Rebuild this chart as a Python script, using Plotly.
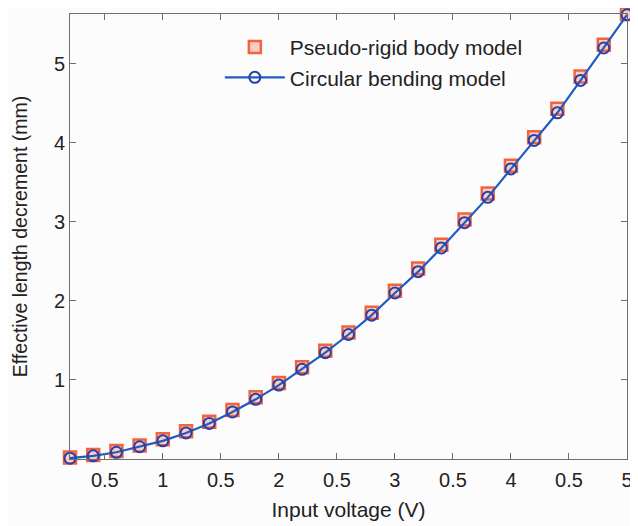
import plotly.graph_objects as go

voltage = [0.2, 0.4, 0.6, 0.8, 1.0, 1.2, 1.4, 1.6, 1.8, 2.0, 2.2, 2.4, 2.6,
           2.8, 3.0, 3.2, 3.4, 3.6, 3.8, 4.0, 4.2, 4.4, 4.6, 4.8, 5.0]
circular = [0.01, 0.04, 0.085, 0.155, 0.23, 0.33, 0.45, 0.595, 0.755, 0.935,
            1.135, 1.345, 1.575, 1.82, 2.10, 2.37, 2.67, 2.99, 3.31, 3.67,
            4.03, 4.38, 4.79, 5.20, 5.62]
pseudo = [0.02, 0.05, 0.10, 0.17, 0.25, 0.35, 0.47, 0.62, 0.78, 0.96,
          1.16, 1.37, 1.60, 1.85, 2.13, 2.41, 2.71, 3.03, 3.36, 3.71,
          4.07, 4.43, 4.84, 5.24, 5.63]
x_tickvals = [0.5, 1.0, 1.5, 2.0, 2.5, 3.0, 3.5, 4.0, 4.5, 5.0]
x_ticktext = ["0.5", "1", "0.5", "2", "0.5", "3", "0.5", "4", "0.5", "5"]
y_tickvals = [1, 2, 3, 4, 5]

font = "Liberation Sans, Arial, sans-serif"

fig = go.Figure()
fig.add_trace(go.Scatter(
    x=voltage, y=pseudo, mode="markers", name="Pseudo-rigid body model",
    cliponaxis=False,
    marker=dict(symbol="square", size=12, color="rgba(250,200,185,0.9)",
                line=dict(color="#f0643f", width=2.5)),
))
fig.add_trace(go.Scatter(
    x=voltage, y=circular, mode="lines+markers", name="Circular bending model",
    cliponaxis=False,
    line=dict(color="#1f5cc0", width=2.2),
    marker=dict(symbol="circle-open", size=11, color="#2a3fa8",
                line=dict(color="#2a3fa8", width=2)),
))

axis_common = dict(
    showline=True, linecolor="#6e6e6e", linewidth=1, mirror="ticks",
    ticks="inside", ticklen=6, tickcolor="#6e6e6e", showgrid=False,
    zeroline=False, tickfont=dict(family=font, size=20, color="#222"),
)
fig.update_xaxes(range=[0.2, 5.0], tickvals=x_tickvals, ticktext=x_ticktext,
                 ticklabelstandoff=3, ticklabeloverflow="allow",
                 title=dict(text="Input voltage (V)", standoff=12,
                            font=dict(family=font, size=21, color="#222")),
                 **axis_common)
fig.update_yaxes(range=[0.0, 5.63], tickvals=y_tickvals,
                 title=dict(text="Effective length decrement (mm)", standoff=21,
                            font=dict(family=font, size=19.5, color="#222")),
                 **axis_common)

fig.update_layout(
    width=630, height=518,
    margin=dict(l=62, r=5, t=6, b=67),
    paper_bgcolor="#fcfcfc", plot_bgcolor="#fcfcfc",
    showlegend=True,
    legend=dict(x=0.269, y=0.971, xanchor="left", yanchor="top",
                bgcolor="rgba(0,0,0,0)", itemwidth=60,
                font=dict(family=font, size=21, color="#222"),
                tracegroupgap=0),
)

fig.write_html("out.html")
